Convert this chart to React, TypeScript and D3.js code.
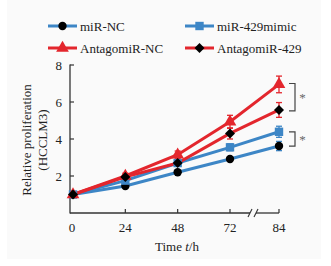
import React from "react";
import * as d3 from "d3";

const hours = [0, 24, 48, 72, 84];
const xTicks = [0, 24, 48, 72, 84];
const yTicks = [0, 2, 4, 6, 8];

const miRNC = [1.0, 1.46, 2.2, 2.92, 3.62];
const miRNCErr = [0.05, 0.08, 0.1, 0.12, 0.25];
const mimic = [1.0, 1.75, 2.7, 3.55, 4.39];
const mimicErr = [0.05, 0.1, 0.15, 0.18, 0.3];
const antagoNC = [1.0, 2.0, 3.15, 4.93, 6.95];
const antagoNCErr = [0.05, 0.15, 0.2, 0.35, 0.45];
const antago429 = [1.0, 1.95, 2.7, 4.3, 5.57];
const antago429Err = [0.05, 0.12, 0.18, 0.3, 0.4];

const BLUE = "#3d86c6";
const RED = "#e3262d";

const series = [
  { name: "miR-NC", values: miRNC, err: miRNCErr, color: BLUE, marker: "circle" },
  { name: "miR-429mimic", values: mimic, err: mimicErr, color: BLUE, marker: "square" },
  { name: "AntagomiR-NC", values: antagoNC, err: antagoNCErr, color: RED, marker: "triangle" },
  { name: "AntagomiR-429", values: antago429, err: antago429Err, color: RED, marker: "diamond" },
];

const FONT = "'Liberation Serif', 'Times New Roman', serif";

function Marker({ type, x, y, color }: { type: string; x: number; y: number; color: string }) {
  if (type === "circle") return <circle cx={x} cy={y} r={4.2} fill="#000" />;
  if (type === "square") return <rect x={x - 4.2} y={y - 4.2} width={8.4} height={8.4} fill={BLUE} />;
  if (type === "triangle") {
    const s = d3.symbol(d3.symbolTriangle, 70)()!;
    return <path d={s} transform={`translate(${x},${y})`} fill={RED} />;
  }
  return <path d={`M0,-5L5,0L0,5L-5,0Z`} transform={`translate(${x},${y})`} fill="#000" />;
}

export default function App() {
  const x = d3.scaleLinear().domain([0, 72, 84]).range([73, 230, 279]);
  const y = d3.scaleLinear().domain([0, 8]).range([213, 65]);
  const x0 = 70;
  const xEnd = 279;
  const line = (vals: number[]) =>
    d3.line<number>().x((_, i) => x(hours[i])).y((d) => y(d))(vals)!;

  const legend = [
    { s: series[0], lx: 48, ly: 26 },
    { s: series[1], lx: 185, ly: 26 },
    { s: series[2], lx: 48, ly: 48 },
    { s: series[3], lx: 185, ly: 48 },
  ];

  const yb = y(0);
  const brk = 253;

  return (
    <svg width={331} height={266} style={{ position: "absolute", left: 0, top: 0 }}>
      <rect x={0} y={0} width={331} height={266} fill="#fff" />
      <rect x={7} y={0} width={314} height={259} fill="#fafafa" />
      {/* legend */}
      {legend.map(({ s, lx, ly }) => (
        <g key={s.name}>
          <line x1={lx} x2={lx + 29} y1={ly} y2={ly} stroke={s.color} strokeWidth={3} />
          <Marker type={s.marker} x={lx + 14.5} y={ly} color={s.color} />
          <text x={lx + 32} y={ly + 4.5} fontFamily={FONT} fontSize={13} fill="#222">
            {s.name}
          </text>
        </g>
      ))}
      {/* axes */}
      <line x1={x0} x2={x0} y1={y(8) - 0.5} y2={yb + 0.5} stroke="#333" strokeWidth={1.3} />
      <line x1={x0} x2={brk - 3} y1={yb} y2={yb} stroke="#333" strokeWidth={1.3} />
      <line x1={brk + 3} x2={xEnd} y1={yb} y2={yb} stroke="#333" strokeWidth={1.3} />
      <line x1={brk - 5} x2={brk - 1} y1={yb + 4} y2={yb - 4} stroke="#333" strokeWidth={1.1} />
      <line x1={brk + 1} x2={brk + 5} y1={yb + 4} y2={yb - 4} stroke="#333" strokeWidth={1.1} />
      {yTicks.map((t) => (
        <g key={"y" + t}>
          {t > 0 && <line x1={x0} x2={x0 + 4} y1={y(t)} y2={y(t)} stroke="#333" strokeWidth={1.2} />}
          {t > 0 && (
            <text x={x0 - 8} y={y(t) + 4.5} textAnchor="end" fontFamily={FONT} fontSize={13} fill="#222">
              {t}
            </text>
          )}
        </g>
      ))}
      {xTicks.map((t) => (
        <g key={"x" + t}>
          {t > 0 && <line x1={x(t)} x2={x(t)} y1={yb} y2={yb - 4} stroke="#333" strokeWidth={1.2} />}
          <text x={t === 0 ? 72 : x(t)} y={yb + 19} textAnchor="middle" fontFamily={FONT} fontSize={13} fill="#222">
            {t}
          </text>
        </g>
      ))}
      <text x={177} y={251} textAnchor="middle" fontFamily={FONT} fontSize={13} fill="#222">
        Time <tspan fontStyle="italic">t</tspan>/h
      </text>
      <g transform="translate(26,140) rotate(-90)">
        <text x={0} y={4.5} textAnchor="middle" fontFamily={FONT} fontSize={13} fill="#222">
          Relative proliferation
        </text>
        <text x={0} y={20.5} textAnchor="middle" fontFamily={FONT} fontSize={13} fill="#222">
          (HCCLM3)
        </text>
      </g>
      {/* series */}
      {series.map((s) => (
        <g key={s.name}>
          <path d={line(s.values)} fill="none" stroke={s.color} strokeWidth={3} />
          {s.values.map((v, i) => {
            const cx = x(hours[i]);
            const e = s.err[i];
            return (
              <g key={i}>
                <line x1={cx} x2={cx} y1={y(v + e)} y2={y(v - e)} stroke={s.color} strokeWidth={1.3} />
                <line x1={cx - 3} x2={cx + 3} y1={y(v + e)} y2={y(v + e)} stroke={s.color} strokeWidth={1.3} />
                <line x1={cx - 3} x2={cx + 3} y1={y(v - e)} y2={y(v - e)} stroke={s.color} strokeWidth={1.3} />
              </g>
            );
          })}
        </g>
      ))}
      {series.map((s) => (
        <g key={s.name + "m"}>
          {s.values.map((v, i) => (
            <Marker key={i} type={s.marker} x={x(hours[i])} y={y(v)} color={s.color} />
          ))}
        </g>
      ))}
      {/* significance brackets */}
      <path
        d={`M289,${y(antagoNC[4] + 0.05)}H295V${y(antago429[4] - 0.05)}H289`}
        fill="none"
        stroke="#444"
        strokeWidth={1.2}
      />
      <text x={302.5} y={y((antagoNC[4] + antago429[4]) / 2) + 5} textAnchor="middle" fontFamily={FONT} fontSize={13} fill="#666">
        *
      </text>
      <path
        d={`M289,${y(mimic[4])}H295V${y(miRNC[4])}H289`}
        fill="none"
        stroke="#444"
        strokeWidth={1.2}
      />
      <text x={302.5} y={y((mimic[4] + miRNC[4]) / 2) + 5} textAnchor="middle" fontFamily={FONT} fontSize={13} fill="#666">
        *
      </text>
    </svg>
  );
}
